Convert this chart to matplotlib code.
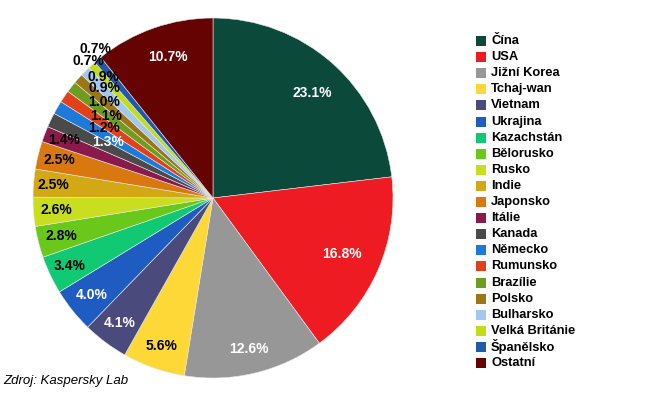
import matplotlib
matplotlib.use("Agg")
import matplotlib.pyplot as plt
import numpy as np
from matplotlib.patches import Rectangle

countries = ["Čína", "USA", "Jižní Korea", "Tchaj-wan", "Vietnam", "Ukrajina",
             "Kazachstán", "Bělorusko", "Rusko", "Indie", "Japonsko", "Itálie",
             "Kanada", "Německo", "Rumunsko", "Brazílie", "Polsko", "Bulharsko",
             "Velká Británie", "Španělsko", "Ostatní"]
shares = [23.1, 16.8, 12.6, 5.6, 4.1, 4.0, 3.4, 2.8, 2.6, 2.5, 2.5, 1.4,
          1.3, 1.2, 1.1, 1.0, 0.9, 0.9, 0.7, 0.7, 10.7]
colors = ["#0b4a3b", "#ee1b22", "#979797", "#fed836", "#4a4a7c", "#1f5cc2",
          "#12c973", "#69c81a", "#c9de1f", "#d2a814", "#d9780f", "#8a1a4c",
          "#4a4a4a", "#1e7ad8", "#e2401a", "#6e9c1e", "#9c7614", "#a0c8f0",
          "#c2dc18", "#1f5aa8", "#650303"]
label_colors = ["white", "white", "white", "black", "white", "white",
                "black", "black", "black", "black", "black", "black",
                "white", "black", "black", "black", "black", "black",
                "black", "black", "white"]
# label placement (radius fraction, angle tweak in degrees)
label_r = [0.80, 0.78, 0.86, 0.87, 0.87, 0.86, 0.88, 0.87, 0.87, 0.89, 0.88, 0.89,
           0.66, 0.72, 0.75, 0.81, 0.86, 0.905, 1.03, 1.055, 0.82]
label_da = [-1.7, 0, 0, 0, 0, 0, 0, 0, 0, 0, 0, -0.6,
            -2.6, -2.6, -3, -3.3, -3.8, -3, 0, -1.7, -1.6]

W, H = 664, 394
fig = plt.figure(figsize=(W / 100, H / 100), dpi=100)
fig.patch.set_facecolor("white")

cx, cy, R = 213, 198, 180
ax = fig.add_axes([(cx - R) / W, (H - cy - R) / H, 2 * R / W, 2 * R / H])
wedges, _ = ax.pie(shares, colors=colors, startangle=90, counterclock=False,
                   radius=1.0, wedgeprops=dict(edgecolor="#e8e8e8", linewidth=0.4))
ax.set_xlim(-1, 1)
ax.set_ylim(-1, 1)
ax.axis("off")

for w, v, c, r, da in zip(wedges, shares, label_colors, label_r, label_da):
    mid = np.deg2rad((w.theta1 + w.theta2) / 2 + da)
    ax.text(r * np.cos(mid), r * np.sin(mid), f"{v:.1f}%", ha="center", va="center",
            color=c, fontsize=10, fontweight="bold", family="Liberation Sans",
            clip_on=False)

# legend
lx, ly0, dy = 476, 41, 16.1
for i, (name, col) in enumerate(zip(countries, colors)):
    y = ly0 + i * dy
    fig.patches.append(Rectangle(((lx) / W, (H - y - 5) / H), 10 / W, 10 / H,
                                 transform=fig.transFigure, facecolor=col,
                                 edgecolor="none"))
    fig.text((lx + 15) / W, (H - y) / H, name, ha="left", va="center",
             fontsize=9.3, fontweight="bold", family="Liberation Sans", color="black")

fig.text(3 / W, (H - 381) / H, "Zdroj: Kaspersky Lab", ha="left", va="center",
         fontsize=9.5, style="italic", family="Liberation Sans", color="black")

fig.savefig("out.png", dpi=100)
